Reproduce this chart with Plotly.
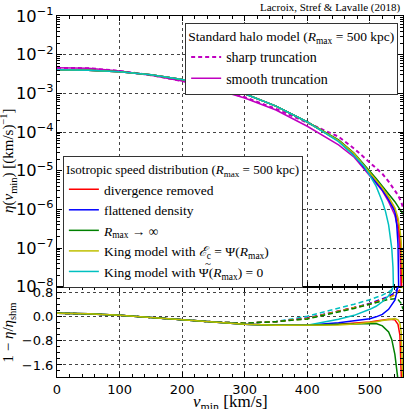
import plotly.graph_objects as go
from plotly.subplots import make_subplots

# ---------------- top panel data: eta(v_min) [(km/s)^-1] ----------------
V_SHARP = [0, 50, 100, 150, 200, 250, 300, 350, 400, 450, 475, 500, 510, 520, 530, 540, 545, 550, 553]
ETA_SHARP = [4.57e-3, 4.47e-3, 3.80e-3, 2.95e-3, 2.09e-3, 1.35e-3, 7.94e-4, 3.98e-4, 1.74e-4, 7.59e-5,
             3.72e-5, 1.66e-5, 1.20e-5, 8.32e-6, 5.25e-6, 3.16e-6, 2.34e-6, 1.58e-6, 1.12e-6]

V_SMOOTH = [0, 50, 100, 150, 200, 250, 300, 350, 400, 450, 475, 500, 510, 520, 530, 540, 545, 548, 549.5, 550.5]
ETA_SMOOTH = [4.57e-3, 4.47e-3, 3.80e-3, 2.95e-3, 2.09e-3, 1.32e-3, 7.59e-4, 3.72e-4, 1.41e-4, 4.68e-5,
              2.24e-5, 7.59e-6, 4.79e-6, 3.02e-6, 1.58e-6, 7.08e-7, 3.16e-7, 1.0e-7, 1.58e-8, 1.0e-9]

V_ISO_LOW = [0, 50, 100, 150, 200, 250, 300, 350, 400]
ETA_ISO_LOW = [4.07e-3, 3.98e-3, 3.63e-3, 3.02e-3, 2.29e-3, 1.58e-3, 9.77e-4, 4.68e-4, 1.82e-4]

V_RED_T = [450, 475, 500, 510, 520, 530, 540, 545, 548, 550, 551.5, 552]
ETA_RED = [6.03e-5, 2.69e-5, 8.91e-6, 5.62e-6, 3.55e-6, 2.0e-6, 1.0e-6, 5.01e-7, 2.0e-7, 6.31e-8, 1.0e-8, 1.0e-9]

V_BLUE_T = [450, 475, 500, 510, 520, 530, 540, 543, 545, 546.5, 547]
ETA_BLUE = [5.89e-5, 2.51e-5, 8.32e-6, 5.01e-6, 3.16e-6, 1.78e-6, 8.91e-7, 3.98e-7, 1.26e-7, 1.0e-8, 1.0e-9]

V_GREEN_T = [450, 475, 500, 510, 520, 530, 540, 548, 553]
ETA_GREEN = [6.31e-5, 2.82e-5, 1.0e-5, 6.31e-6, 3.98e-6, 2.51e-6, 1.58e-6, 1.0e-6, 7.59e-7]

V_YELLOW_T = [450, 475, 500, 510, 520, 530, 540, 545, 548, 550, 552, 553]
ETA_YELLOW = [6.03e-5, 2.75e-5, 9.12e-6, 5.75e-6, 3.63e-6, 2.09e-6, 1.10e-6, 6.03e-7, 3.16e-7, 1.58e-7, 3.98e-8, 1.26e-8]

V_CYAN_T = [450, 475, 490, 500, 510, 520, 525, 530, 535, 537, 538.5, 539]
ETA_CYAN = [5.62e-5, 2.40e-5, 1.35e-5, 7.59e-6, 3.98e-6, 1.58e-6, 8.91e-7, 3.98e-7, 1.0e-7, 3.16e-8, 6.31e-9, 1.0e-9]

# ---------------- bottom panel data: 1 - eta/eta_shm ----------------
V_R_LOW = [0, 50, 100, 150, 200, 250, 300, 350, 400]
R_SOLID_LOW = [0.12, 0.10, 0.05, -0.02, -0.10, -0.18, -0.25, -0.28, -0.28]
R_DASH_LOW = [0.12, 0.10, 0.05, -0.02, -0.10, -0.17, -0.21, -0.16]

V_RED_S = [450, 475, 500, 510, 520, 530, 540, 545, 548, 550, 551, 552]
R_RED_S = [-0.25, -0.22, -0.17, -0.14, -0.10, -0.08, -0.10, -0.25, -0.6, -1.3, -2.2, -3.0]
V_YEL_S = [450, 475, 500, 510, 520, 530, 540, 545, 548, 550, 552, 553]
R_YEL_S = [-0.27, -0.24, -0.20, -0.16, -0.12, -0.08, -0.06, -0.10, -0.20, -0.5, -1.2, -2.2]
V_GRN_S = [450, 475, 500, 510, 520, 530, 535, 540, 545]
R_GRN_S = [-0.25, -0.23, -0.21, -0.22, -0.30, -0.50, -0.75, -1.25, -2.1]
V_BLU_S = [450, 475, 500, 510, 520, 530, 535, 540, 543, 545]
R_BLU_S = [-0.20, -0.14, -0.06, 0.0, 0.08, 0.25, 0.38, 0.55, 0.8, 1.1]
V_CYA_S = [450, 475, 500, 510, 520, 530, 535, 538, 540]
R_CYA_S = [-0.08, 0.05, 0.25, 0.35, 0.50, 0.70, 0.85, 1.0, 1.2]

V_RED_D = [400, 450, 475, 500, 510, 520, 530, 540, 545, 548, 550, 552]
R_RED_D = [-0.05, 0.18, 0.30, 0.43, 0.50, 0.56, 0.64, 0.74, 0.82, 0.90, 0.97, 1.05]
V_YEL_D = [400, 450, 475, 500, 510, 520, 530, 540, 545, 548, 550, 553]
R_YEL_D = [-0.06, 0.17, 0.29, 0.42, 0.48, 0.55, 0.62, 0.72, 0.79, 0.85, 0.90, 1.0]
V_BLU_D = [400, 450, 475, 500, 510, 520, 530, 540, 543, 545, 547]
R_BLU_D = [-0.04, 0.19, 0.31, 0.45, 0.52, 0.59, 0.68, 0.80, 0.90, 0.97, 1.05]
V_CYA_D = [400, 450, 475, 500, 510, 520, 530, 535, 538]
R_CYA_D = [0.02, 0.28, 0.42, 0.57, 0.64, 0.72, 0.83, 0.90, 1.0]
V_GRN_D = [400, 450, 475, 500, 510, 520, 530, 540, 545, 550, 553]
R_GRN_D = [-0.07, 0.16, 0.28, 0.42, 0.47, 0.53, 0.58, 0.60, 0.58, 0.45, 0.25]

MAG = "#c000c0"
RED = "#ff0000"
BLUE = "#0000ff"
GREEN = "#008000"
YEL = "#bfbf00"
CYAN = "#00c0c0"

SERIF = "Liberation Serif"
SANS = "DejaVu Sans"

fig = make_subplots(rows=2, cols=1, shared_xaxes=True, vertical_spacing=0,
                    row_heights=[0.75, 0.25])

# SHM curves (legend 1)
fig.add_trace(go.Scatter(x=V_SHARP, y=ETA_SHARP, mode="lines", name="sharp truncation",
                         line=dict(color=MAG, width=2, dash="4px,3px"), legend="legend"), row=1, col=1)
fig.add_trace(go.Scatter(x=V_SMOOTH, y=ETA_SMOOTH, mode="lines", name="smooth truncation",
                         line=dict(color=MAG, width=1.5), legend="legend"), row=1, col=1)

iso = [
    ("divergence removed", RED, V_RED_T, ETA_RED),
    ("flattened density", BLUE, V_BLUE_T, ETA_BLUE),
    ("<i>R</i><sub>max</sub> → ∞", GREEN, V_GREEN_T, ETA_GREEN),
    ("King model with <i>ℰ</i><sub>c</sub> = Ψ(<i>R</i><sub>max</sub>)", YEL, V_YELLOW_T, ETA_YELLOW),
    ("King model with Ψ(<i>R</i><sub>max</sub>) = 0", CYAN, V_CYAN_T, ETA_CYAN),
]
for name, col, vt, et in iso:
    fig.add_trace(go.Scatter(x=V_ISO_LOW + vt, y=ETA_ISO_LOW + et, mode="lines", name=name,
                             line=dict(color=col, width=1.5), legend="legend2"), row=1, col=1)

# bottom panel
dashed = [
    (CYAN, V_CYA_D, R_CYA_D), (BLUE, V_BLU_D, R_BLU_D), (RED, V_RED_D, R_RED_D),
    (YEL, V_YEL_D, R_YEL_D), (GREEN, V_GRN_D, R_GRN_D),
]
for col, vd, rd in dashed:
    fig.add_trace(go.Scatter(x=V_R_LOW[:-1] + vd, y=R_DASH_LOW + rd, mode="lines", showlegend=False,
                             line=dict(color=col, width=1.5, dash="5px,3px")), row=2, col=1)
solid = [
    (RED, V_RED_S, R_RED_S), (BLUE, V_BLU_S, R_BLU_S), (CYAN, V_CYA_S, R_CYA_S),
    (GREEN, V_GRN_S, R_GRN_S), (YEL, V_YEL_S, R_YEL_S),
]
for col, vs, rs in solid:
    fig.add_trace(go.Scatter(x=V_R_LOW + vs, y=R_SOLID_LOW + rs, mode="lines", showlegend=False,
                             line=dict(color=col, width=1.5)), row=2, col=1)

axis_common = dict(showline=True, linecolor="black", linewidth=1, mirror="allticks",
                   ticks="inside", tickcolor="black", showgrid=True, gridcolor="#444",
                   griddash="dot", gridwidth=1, zeroline=False, automargin=False,
                   tickfont=dict(family=SANS, size=13, color="black"))

fig.update_xaxes(range=[0, 553], dtick=100, ticklen=5,
                 minor=dict(ticks="inside", dtick=20, ticklen=3, tickcolor="black", showgrid=False),
                 **axis_common)
fig.update_xaxes(showticklabels=False, row=1, col=1)

fig.update_yaxes(type="log", range=[-8, -1], dtick=1, exponentformat="power", ticklen=5,
                 minor=dict(ticks="inside", ticklen=3, tickcolor="black", showgrid=False),
                 row=1, col=1, **axis_common)
fig.update_yaxes(range=[-2, 1], tickvals=[0.8, 0.0, -0.8, -1.6], tickformat=".1f", ticklen=5,
                 minor=dict(ticks="inside", dtick=0.2, ticklen=3, tickcolor="black", showgrid=False),
                 row=2, col=1, **axis_common)

title_font = dict(family=SERIF, size=15, color="black")
fig.update_layout(
    width=404, height=409,
    margin=dict(l=57, r=1, t=16, b=32),
    plot_bgcolor="white", paper_bgcolor="white",
    legend=dict(x=0.986, xanchor="right", y=0.981, yanchor="top", bgcolor="white",
                bordercolor="#333", borderwidth=1, itemwidth=30, tracegroupgap=0,
                font=dict(family=SERIF, size=14, color="black"),
                title=dict(text="Standard halo model (<i>R</i><sub>max</sub> = 500 kpc)",
                           font=dict(family=SERIF, size=13.5, color="black"))),
    legend2=dict(x=0.017, xanchor="left", y=0.612, yanchor="top", bgcolor="white",
                 bordercolor="#333", borderwidth=1, itemwidth=30, tracegroupgap=0,
                 font=dict(family=SERIF, size=13.5, color="black"),
                 title=dict(text="Isotropic speed distribution (<i>R</i><sub>max</sub> = 500 kpc)",
                            font=dict(family=SERIF, size=13, color="black"))),
    annotations=[
        dict(text="Lacroix, Stref &amp; Lavalle (2018)", xref="paper", yref="paper",
             x=1, y=1, xanchor="right", yanchor="bottom", showarrow=False,
             font=dict(family=SERIF, size=11, color="black")),
        dict(text="<i>v</i><sub>min</sub> [km/s]", xref="paper", yref="paper",
             x=0.5, y=-0.071, xanchor="center", yanchor="middle", showarrow=False,
             font=dict(family=SERIF, size=17, color="black")),
        dict(text="<i>η</i>(<i>v</i><sub>min</sub>) [(km/s)<sup>−1</sup>]", xref="paper", yref="paper",
             x=-0.14, y=0.6, xanchor="center", yanchor="middle", textangle=-90, showarrow=False,
             font=title_font),
        dict(text="1 − <i>η</i>/<i>η</i><sub>shm</sub>", xref="paper", yref="paper",
             x=-0.14, y=0.122, xanchor="center", yanchor="middle", textangle=-90, showarrow=False,
             font=title_font),
        # tilde accent over the Psi in the last legend entry
        dict(text="~", xref="paper", yref="paper", x=0.4364, y=0.316, xanchor="center",
             yanchor="middle", showarrow=False, font=dict(family=SERIF, size=11, color="black")),
    ],
)

fig.write_html("out.html")
